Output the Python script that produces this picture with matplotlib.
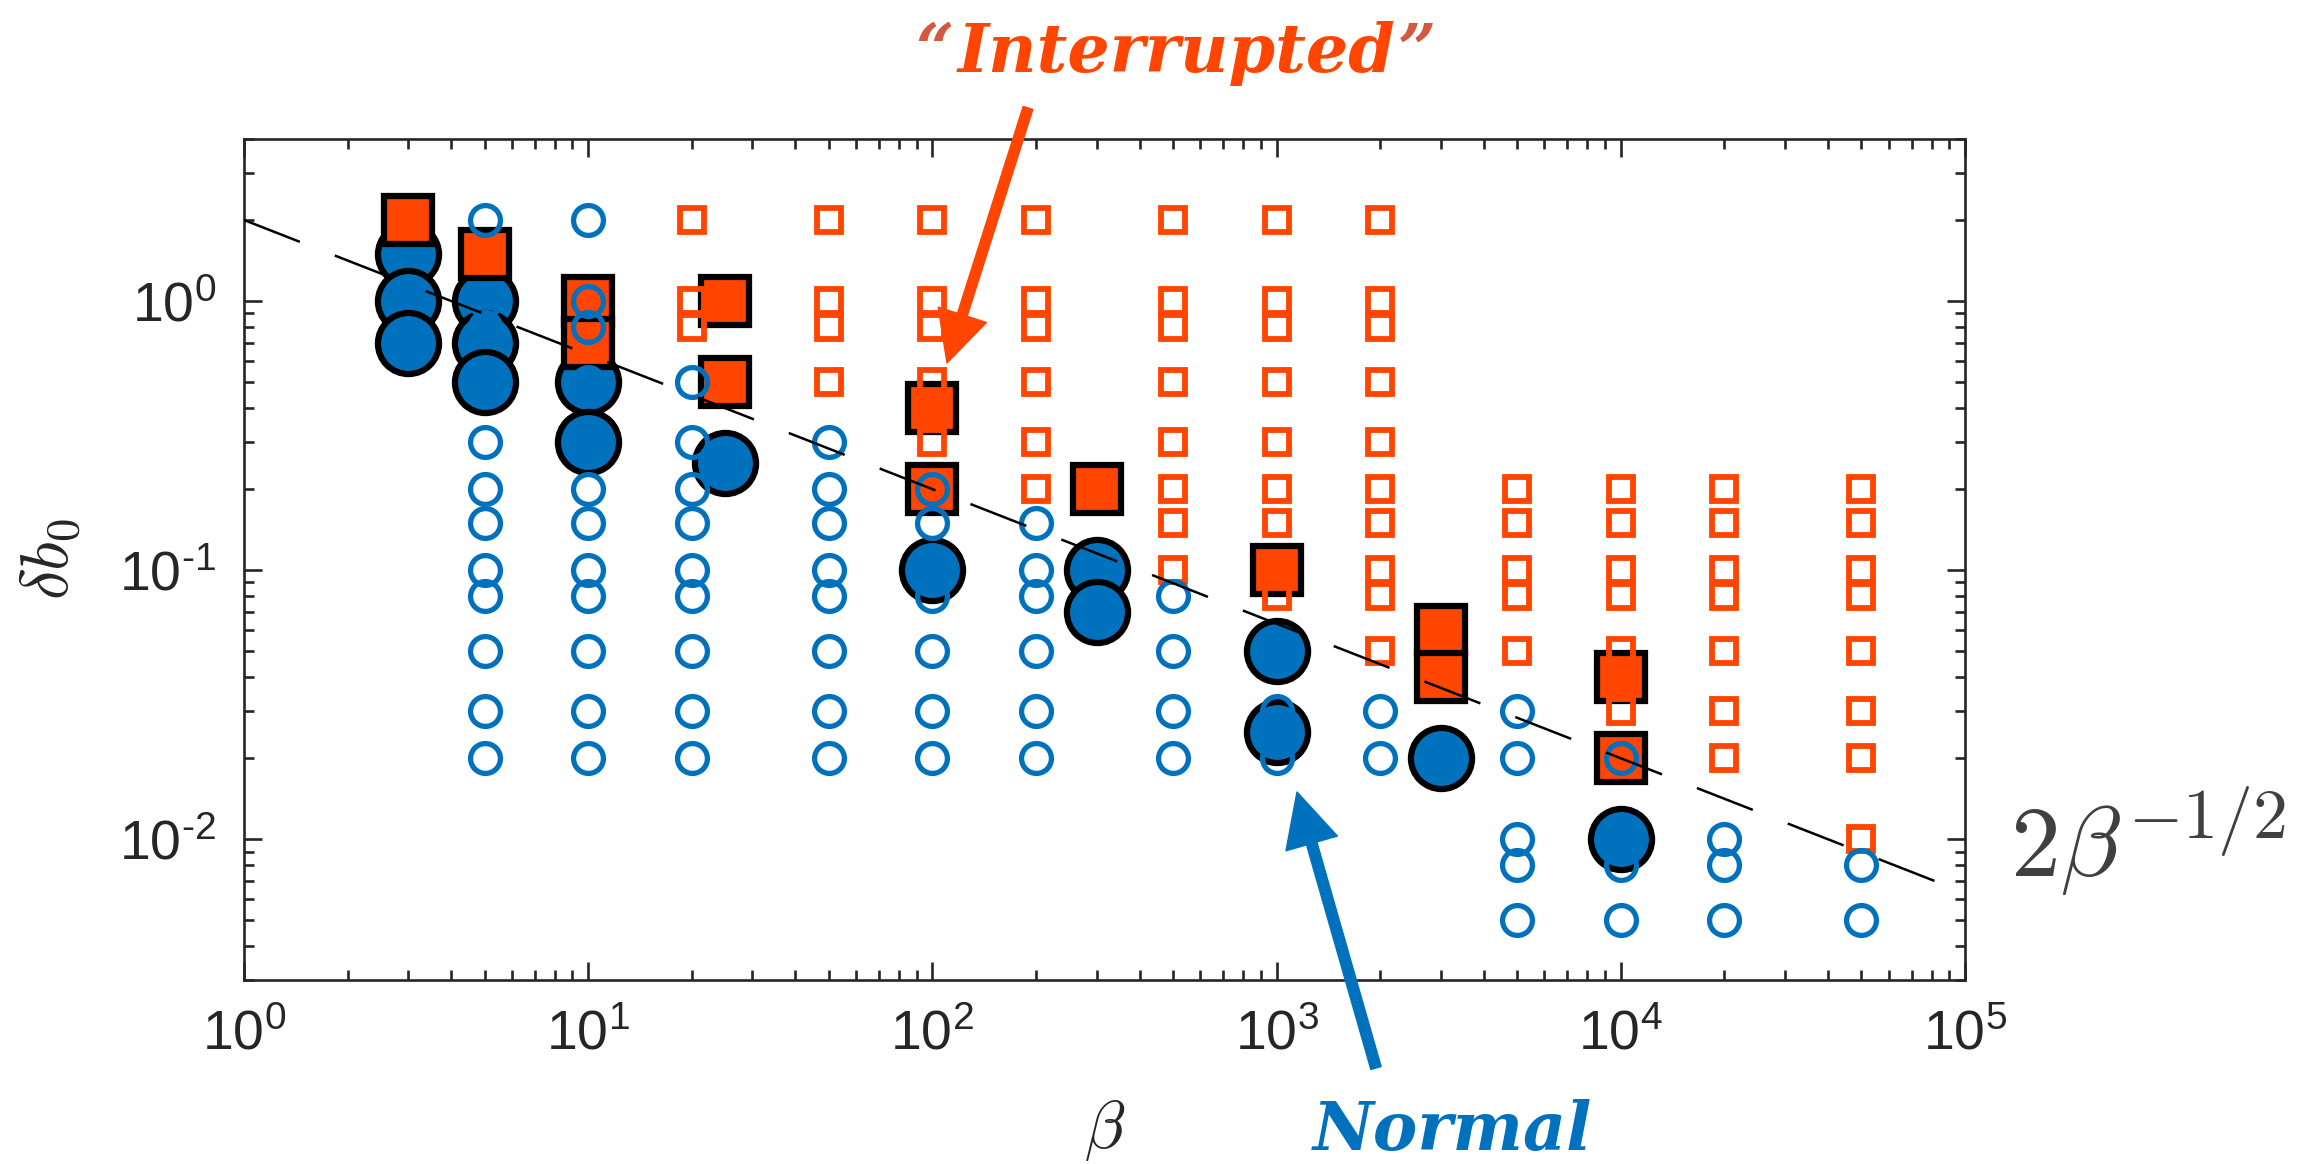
import numpy as np
import matplotlib.pyplot as plt
from matplotlib.ticker import LogLocator, FuncFormatter, NullFormatter

plt.rcParams['mathtext.fontset'] = 'cm'
plt.rcParams['mathtext.rm'] = 'Liberation Sans'
plt.rcParams['mathtext.it'] = 'Liberation Sans:italic'
plt.rcParams['mathtext.bf'] = 'Liberation Sans:bold'
plt.rcParams['font.family'] = ['Liberation Sans', 'DejaVu Sans']

# ---- data ----
# open circles: "normal" runs, one list of delta b0 per beta column
normal_beta = [5, 10, 20, 50, 100, 200, 500, 1000, 2000, 5000, 1e4, 2e4, 5e4]
normal_db = [
    [2, 1, 0.8, 0.5, 0.3, 0.2, 0.15, 0.1, 0.08, 0.05, 0.03, 0.02],
    [2, 1, 0.8, 0.5, 0.3, 0.2, 0.15, 0.1, 0.08, 0.05, 0.03, 0.02],
    [0.5, 0.3, 0.2, 0.15, 0.1, 0.08, 0.05, 0.03, 0.02],
    [0.3, 0.2, 0.15, 0.1, 0.08, 0.05, 0.03, 0.02],
    [0.2, 0.15, 0.1, 0.08, 0.05, 0.03, 0.02],
    [0.15, 0.1, 0.08, 0.05, 0.03, 0.02],
    [0.08, 0.05, 0.03, 0.02],
    [0.05, 0.03, 0.02],
    [0.03, 0.02],
    [0.03, 0.02, 0.01, 0.008, 0.005],
    [0.02, 0.01, 0.008, 0.005],
    [0.01, 0.008, 0.005],
    [0.008, 0.005],
]

# open squares: "interrupted" runs
interr_beta = [20, 50, 100, 200, 500, 1000, 2000, 5000, 1e4, 2e4, 5e4]
interr_db = [
    [2, 1, 0.8],
    [2, 1, 0.8, 0.5],
    [2, 1, 0.8, 0.5, 0.3],
    [2, 1, 0.8, 0.5, 0.3, 0.2],
    [2, 1, 0.8, 0.5, 0.3, 0.2, 0.15, 0.1],
    [2, 1, 0.8, 0.5, 0.3, 0.2, 0.15, 0.1, 0.08],
    [2, 1, 0.8, 0.5, 0.3, 0.2, 0.15, 0.1, 0.08, 0.05],
    [0.2, 0.15, 0.1, 0.08, 0.05],
    [0.2, 0.15, 0.1, 0.08, 0.05, 0.03],
    [0.2, 0.15, 0.1, 0.08, 0.05, 0.03, 0.02],
    [0.2, 0.15, 0.1, 0.08, 0.05, 0.03, 0.02, 0.01],
]

# big filled markers near the boundary
edge_int_beta = [3, 5, 10, 10, 25, 25, 100, 100, 300, 1000, 3000, 3000, 1e4, 1e4]
edge_int_db = [2, 1.5, 1.0, 0.7, 1.0, 0.5, 0.4, 0.2, 0.2, 0.1, 0.06, 0.04, 0.04, 0.02]
edge_norm_beta = [3, 3, 3, 5, 5, 5, 10, 10, 25, 100, 300, 300, 1000, 1000, 3000, 1e4]
edge_norm_db = [1.5, 1.0, 0.7, 1.0, 0.7, 0.5, 0.5, 0.3, 0.25, 0.1, 0.1, 0.07, 0.05, 0.025, 0.02, 0.01]

# guide line 2*beta^(-1/2)
fit_beta = np.array([1.0, 1e5])
fit_db = 2 * fit_beta ** -0.5

BLUE = '#0072BD'
ORANGE = '#FF4500'
QUOTE = '#D4583E'
INK = '#262626'

W, H = 2319, 1164
fig = plt.figure(figsize=(W / 100, H / 100), dpi=100)
ax = fig.add_axes([244 / W, 1 - 980 / H, (1965 - 244) / W, (980 - 139) / H])
ax.set_xscale('log')
ax.set_yscale('log')

ax.plot(edge_norm_beta, edge_norm_db, 'o', ms=44, mfc=BLUE, mec='k', mew=4.5, zorder=2)
ax.plot(edge_int_beta, edge_int_db, 's', ms=34, mfc=ORANGE, mec='k', mew=4.5, zorder=3)

for b, col in zip(interr_beta, interr_db):
    ax.plot([b] * len(col), col, 's', ms=17.5, mfc='none', mec=ORANGE, mew=4.2, zorder=4)
for b, col in zip(normal_beta, normal_db):
    ax.plot([b] * len(col), col, 'o', ms=21.5, mfc='none', mec=BLUE, mew=3.8, zorder=4)

ax.plot(fit_beta, fit_db, color='k', lw=1.8, ls=(0, (24, 15)), zorder=5)

ax.set_xlim(1, 1e5)
ax.set_ylim(3e-3, 4)


def dec_label(v, pos):
    e = int(round(np.log10(v)))
    return '$10^{%s}$' % str(e).replace('-', '\u2010')


for axis in (ax.xaxis, ax.yaxis):
    axis.set_major_locator(LogLocator(base=10, numticks=10))
    axis.set_minor_locator(LogLocator(base=10, subs=np.arange(2, 10), numticks=20))
    axis.set_major_formatter(FuncFormatter(dec_label))
    axis.set_minor_formatter(NullFormatter())

ax.tick_params(which='both', direction='in', top=True, right=True, color=INK,
               labelcolor=INK, labelsize=40, width=1.9)
ax.tick_params(which='major', length=13)
ax.tick_params(which='minor', length=7)
ax.tick_params(axis='x', pad=21)
ax.tick_params(axis='y', pad=20)
for lab in ax.get_xticklabels() + ax.get_yticklabels():
    lab.set_math_fontfamily('custom')
for sp in ax.spines.values():
    sp.set_color(INK)
    sp.set_linewidth(1.9)

ax.set_xlabel(r'$\beta$', fontsize=48, color=INK)
ax.xaxis.set_label_coords(0.5, -(1098 - 980) / 841)
ax.set_ylabel(r'$\delta b_0$', fontsize=48, color=INK)
ax.yaxis.set_label_coords(-(244 - 84) / 1721, 0.5)

fig.text(2010 / W, 1 - 877 / H, r'$2\beta^{-1/2}$', fontsize=72, color='#404040',
         ha='left', va='baseline')

# "Interrupted" with its quote marks in a slightly different red
title_font = dict(family='DejaVu Serif', weight='bold', style='italic', fontsize=48)
word = fig.text(1177 / W, 1 - 72 / H, 'Interrupted', color=ORANGE,
                ha='center', va='baseline', **title_font)
bb = word.get_window_extent(fig.canvas.get_renderer())
fig.text(bb.x0 / W - 0.002, 1 - 72 / H, '\u201c', color=QUOTE,
         ha='right', va='baseline', **title_font)
fig.text(bb.x1 / W + 0.001, 1 - 72 / H, '\u201d', color=QUOTE,
         ha='left', va='baseline', **title_font)
fig.text(1452 / W, 1 - 1150 / H, 'Normal', color=BLUE,
         ha='center', va='baseline', **title_font)

arrow_style = 'simple,head_length=0.7,head_width=0.7,tail_width=0.14'
ax.annotate('', xy=(947, H - 363), xytext=(1028, H - 108),
            xycoords='figure pixels', textcoords='figure pixels',
            arrowprops=dict(arrowstyle=arrow_style, color=ORANGE, mutation_scale=52,
                            shrinkA=0, shrinkB=0), annotation_clip=False)
ax.annotate('', xy=(1297, H - 792), xytext=(1376, H - 1068),
            xycoords='figure pixels', textcoords='figure pixels',
            arrowprops=dict(arrowstyle=arrow_style, color=BLUE, mutation_scale=55,
                            shrinkA=0, shrinkB=0), annotation_clip=False)

fig.savefig('out.png', dpi=100)
